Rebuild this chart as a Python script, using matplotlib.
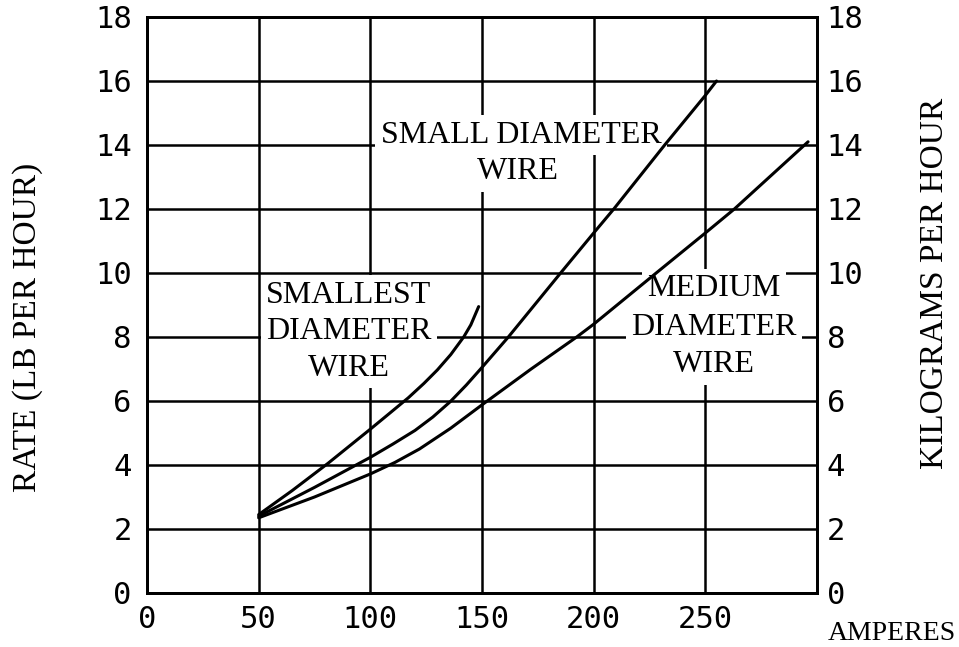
import matplotlib
matplotlib.use("Agg")
import matplotlib.pyplot as plt

# ---- data ----
smallest_x = [50, 65, 81, 100, 108, 117, 124, 130, 136, 141.8, 145, 148.5]
smallest_y = [2.45, 3.2, 4.05, 5.12, 5.58, 6.1, 6.55, 6.97, 7.45, 8.0, 8.38, 8.95]

small_x = [50, 75, 100, 110, 120, 128, 135.8, 143, 150, 161.8, 185.2, 200, 209, 231.8, 250, 255]
small_y = [2.4, 3.3, 4.24, 4.65, 5.08, 5.5, 5.98, 6.5, 7.05, 8.0, 10.0, 11.25, 12.0, 14.0, 15.55, 16.0]

medium_x = [50, 75, 100, 111, 122, 136, 150, 172, 192.4, 200, 228, 250, 263, 296]
medium_y = [2.35, 3.0, 3.72, 4.08, 4.5, 5.15, 5.88, 7.0, 8.0, 8.4, 10.0, 11.25, 12.0, 14.1]

x_ticks = [0, 50, 100, 150, 200, 250]
y_ticks = [0, 2, 4, 6, 8, 10, 12, 14, 16, 18]

LABEL_FONT = "Liberation Serif"
TICK_FONT = "DejaVu Sans Mono"

fig = plt.figure(figsize=(9.59, 6.47), dpi=100)
ax = fig.add_axes([147/959, 1-593/647, 670/959, 576/647])
ax.set_xlim(0, 300)
ax.set_ylim(0, 18)

ax.set_xticks(x_ticks)
ax.set_yticks(y_ticks)
ax.set_xticklabels([str(v) for v in x_ticks], fontfamily=TICK_FONT, fontsize=22)
ax.set_yticklabels([str(v) for v in y_ticks], fontfamily=TICK_FONT, fontsize=22)
ax.tick_params(axis='x', length=0, pad=9)
ax.tick_params(axis='y', length=0, pad=11)
for s in ax.spines.values():
    s.set_linewidth(2.0)
    s.set_color('black')

ax.grid(True, color='black', linewidth=1.8)
ax.set_axisbelow(True)

ax2 = ax.twinx()
ax2.set_ylim(0, 18)
ax2.set_yticks(y_ticks)
ax2.set_yticklabels([str(v) for v in y_ticks], fontfamily=TICK_FONT, fontsize=22)
ax2.tick_params(axis='y', length=0, pad=7)
for s in ax2.spines.values():
    s.set_linewidth(2.0)

for xs, ys in [(smallest_x, smallest_y), (small_x, small_y), (medium_x, medium_y)]:
    ax.plot(xs, ys, color='black', linewidth=2.2, zorder=4,
            solid_joinstyle='round', solid_capstyle='round')

bb = dict(facecolor='white', edgecolor='none', pad=4)
tkw = dict(fontfamily=LABEL_FONT, fontsize=23, ha='center', va='center',
           bbox=bb, zorder=3, color='black')

ax.text(90.4, 9.31, "SMALLEST", **tkw)
ax.text(90.4, 8.16, "DIAMETER", **tkw)
ax.text(90.4, 7.03, "WIRE", **tkw)

ax.text(167.5, 14.31, "SMALL DIAMETER", **tkw)
ax.text(166, 13.16, "WIRE", **tkw)

ax.text(254, 9.5, "MEDIUM", **tkw)
ax.text(254, 8.31, "DIAMETER", **tkw)
ax.text(254, 7.13, "WIRE", **tkw)

fig.text(28/959, 1-327/647, "RATE (LB PER HOUR)", rotation=90, ha='center', va='center',
         fontfamily=LABEL_FONT, fontsize=24)
fig.text(935/959, 1-283/647, "KILOGRAMS PER HOUR", rotation=90, ha='center', va='center',
         fontfamily=LABEL_FONT, fontsize=24)
fig.text(892/959, 1-633/647, "AMPERES", ha='center', va='center',
         fontfamily=LABEL_FONT, fontsize=20)

fig.savefig("out.png", dpi=100)
